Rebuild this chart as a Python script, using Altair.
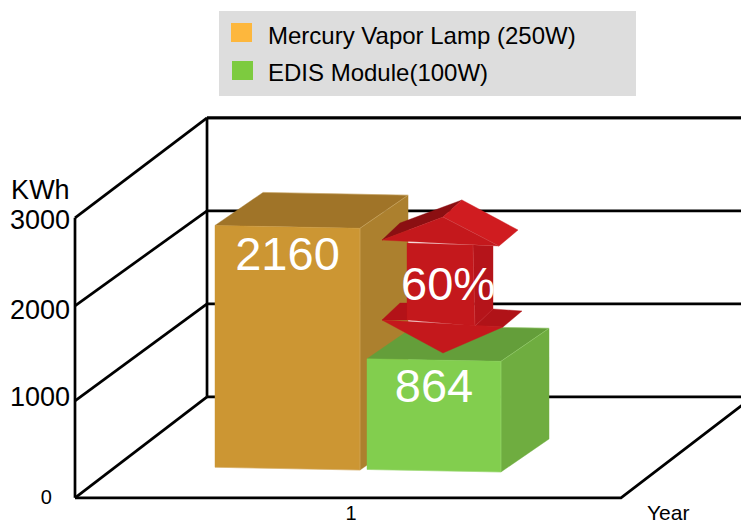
import altair as alt
import pandas as pd

# ---- values -----------------------------------------------------------
series = ["Mercury Vapor Lamp (250W)", "EDIS Module(100W)"]
legend_colors = ["#FDB73D", "#7DCB3F"]
bar_labels = ["2160", "864"]
bar_heights = [2600, 1190]          # drawn height on the kWh axis
bar_left = [0.2564, 0.5348]         # category units
bar_width = [0.2656, 0.2454]
bar_base = [320, 296]
bar_tilt = [-30, -27]
front_colors = ["#CC9633", "#82CE4E"]
top_colors = ["#A07428", "#649E3A"]
side_colors = ["#AC802E", "#6FAD40"]
edge_colors = ["#D8B878", "#A5DB80"]
y_ticks = [0, 1000, 2000, 3000]
front_ticks = [0, 1043, 2065, 3011]   # where the wall lines meet the front axis
category_label = "1"
arrow_label = "60%"

# oblique-projection constants (category units / kWh per unit of depth)
DX, DK = 0.2418, 1086
BAR_DX, BAR_DK = 0.088, 355
BOX_SHIFT = -9

# arrow outline, category units / kWh
A, B, C, D = (.7088, 3194), (.674, 3011), (.5623, 2763), (.5952, 2946)
E, F, G, H = (.8114, 2871), (.7766, 2699), (.6081, 2731), (.7289, 2710)
I, J, K, L = (.7656, 2699), (.7656, 2011), (.7326, 1839), (.6081, 1903)
M, N, O, P = (.5623, 1903), (.674, 1548), (.7839, 1828), (.8187, 2000)
Q, R, S = (.7656, 2022), (.5952, 2086), (.6081, 2086)

# ---- scales ------------------------------------------------------------
X_MIN, X_MAX = -0.12271, 1.2198
xs = alt.Scale(domain=[X_MIN, X_MAX], nice=False, zero=False)
ys = alt.Scale(domain=[-301, 5258], nice=False, zero=False)
X = lambda f="x": alt.X(f"{f}:Q", scale=xs, axis=None)
Y = lambda f="y": alt.Y(f"{f}:Q", scale=ys, axis=None)

layers = []


def face(points, color):
    """Fill a convex polygon as an area between its two envelopes."""
    n = len(points)
    rows = []
    for x in sorted({p[0] for p in points}):
        hits = []
        for i in range(n):
            (x0, y0), (x1, y1) = points[i], points[(i + 1) % n]
            if min(x0, x1) <= x <= max(x0, x1):
                if x0 == x1:
                    hits += [y0, y1]
                else:
                    hits.append(y0 + (y1 - y0) * (x - x0) / (x1 - x0))
        rows.append({"x": x, "y": max(hits), "y2": min(hits)})
    layers.append(
        alt.Chart(pd.DataFrame(rows))
        .mark_area(color=color, opacity=1, stroke=color, strokeWidth=0.4)
        .encode(x=X(), y=Y(), y2="y2:Q")
    )


def path(points, color="black", width=2.7, opacity=1):
    df = pd.DataFrame([{"x": p[0], "y": p[1], "i": i} for i, p in enumerate(points)])
    layers.append(
        alt.Chart(df)
        .mark_line(color=color, strokeWidth=width, opacity=opacity, clip=True)
        .encode(x=X(), y=Y(), order="i:Q")
    )


def box(points):
    path([(p[0], p[1] + BOX_SHIFT) for p in points])


def label(text, x, y, size, color="black", align="center", dy=0):
    df = pd.DataFrame([{"x": x, "y": y, "t": text}])
    layers.append(
        alt.Chart(df)
        .mark_text(font="Liberation Sans", fontSize=size, color=color, align=align,
                   baseline="middle", dy=dy)
        .encode(x=X(), y=Y(), text="t:N")
    )


def panel_text(text, x, y, size):
    layers.append(
        alt.Chart(pd.DataFrame([{"t": text}]))
        .mark_text(font="Liberation Sans", fontSize=size, color="black", align="left",
                   baseline="middle")
        .encode(x=alt.value(x), y=alt.value(y), text="t:N")
    )


def panel_rect(x, x2, y, y2, color):
    layers.append(
        alt.Chart(pd.DataFrame([{"a": 0}]))
        .mark_rect(color=color)
        .encode(x=alt.value(x), x2=alt.value(x2), y=alt.value(y), y2=alt.value(y2))
    )


# ---- legend ------------------------------------------------------------
panel_rect(211, 628, 3, 88, "#DDDDDD")
panel_rect(223, 244, 15, 34, legend_colors[0])
panel_rect(224, 245, 53, 72, legend_colors[1])
panel_text(series[0], 260, 29, 24)
panel_text(series[1], 260, 66, 24)

# ---- box: walls and grid ----------------------------------------------
for t, front in zip(y_ticks, front_ticks):
    box([(DX, t + DK), (X_MAX, t + DK)])
    box([(0, front), (DX, t + DK)])
box([(DX, 4086), (X_MAX, 4086)])
box([(DX, DK), (DX, 4086)])
box([(0, 0), (0, front_ticks[-1])])
box([(0, 0), (1, 0), (1 + DX, DK)])

# ---- bars --------------------------------------------------------------
for i in range(2):
    l, r = bar_left[i], bar_left[i] + bar_width[i]
    base, h, t = bar_base[i], bar_heights[i], bar_tilt[i]
    fl, fr = (l, base), (r, base + t)
    tl, tr = (l, base + h), (r, base + h + t)
    bl, br = (l + BAR_DX, base + h + BAR_DK), (r + BAR_DX, base + h + t + BAR_DK)
    sb = (r + BAR_DX, base + t + BAR_DK)
    face([tl, tr, br, bl], top_colors[i])
    face([tr, fr, sb, br], side_colors[i])
    face([fl, fr, tr, tl], front_colors[i])
    path([bl, br, tr], edge_colors[i], 0.6, 0.7)
    path([fl, fr, tr], edge_colors[i], 0.6, 0.7)

# ---- arrow -------------------------------------------------------------
face([A, B, C, D], "#8B0F12")
face([A, E, F, B], "#D01C20")
face([M, R, S, L], "#B31218")
face([Q, P, O, K], "#B01318")
face([H, I, J, K], "#B5141A")
face([G, H, K, L], "#C4181C")
face([B, C, F], "#C4181C")
face([M, O, N], "#C4181C")
path([B, F], "#D9666A", 0.4, 0.6)
path([H, K, Q], "#D9666A", 0.4, 0.6)

# ---- texts -------------------------------------------------------------
label(bar_labels[0], bar_left[0] + bar_width[0] / 2, bar_base[0] + bar_heights[0] - 15, 47,
      "white", dy=29)
label(bar_labels[1], bar_left[1] + bar_width[1] / 2, bar_base[1] + bar_heights[1] - 15, 47,
      "white", dy=28)
label(arrow_label, 0.6832, 2268, 47, "white")

for t, size, dy, x in zip(y_ticks, [20, 27, 27, 27], [1, -6, 0, 3], [-0.0425, -0.0092, -0.0092, -0.0092]):
    label(str(t), x, t, size, align="right", dy=dy)
label("KWh", -0.117, 3000, 27, align="left", dy=-27)
label(category_label, 0.5055, 0, 20, dy=17)
label("Year", 1.0476, 0, 21, align="left", dy=17)

chart = (
    alt.layer(*layers)
    .properties(width=733, height=517, padding=0,
                autosize=alt.AutoSizeParams(type="none"))
    .configure_view(stroke=None)
)
chart.save("out.html", embed_options={"renderer": "svg", "actions": False})
